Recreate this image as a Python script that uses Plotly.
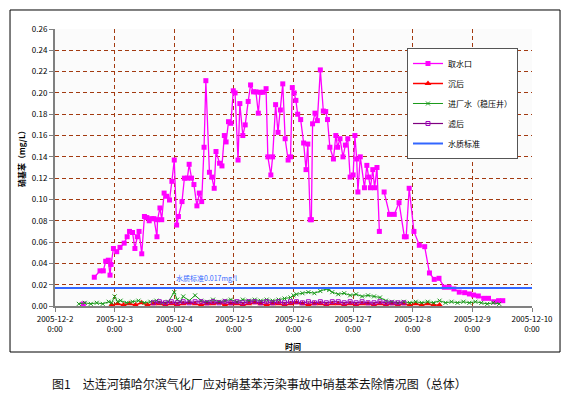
import pandas as pd
import plotly.graph_objects as go

START = pd.Timestamp("2005-12-02 00:00")

# 取水口 (intake) - elapsed days since 2005-12-2 0:00, values mg/L (None = gap)
intake_day = [0.475, 0.56, 0.659, 0.755, 0.81, 0.85, 0.894, 0.923, 0.94, 0.98, 1.035, 1.09, 1.16, 1.21,
              1.25, 1.30, 1.34, 1.38, 1.41, 1.455, 1.50, 1.54, 1.58, 1.62, 1.66, 1.71, 1.72, 1.76, 1.79,
              1.83, 1.87, 1.92, 1.96, 2.00, 2.04, 2.07, 2.13, 2.17, 2.22, 2.25, 2.29, 2.33, 2.38, 2.42,
              2.46, 2.50, 2.53, 2.59, 2.63, 2.67, 2.70, 2.76, 2.80, 2.84, 2.87, 2.91, 2.95, 2.99, 3.02,
              3.07, 3.10, 3.15, 3.19, 3.24, 3.28, 3.33, 3.37, 3.41, 3.44, 3.49, 3.54, 3.57, 3.62, 3.65,
              3.70, 3.74, 3.78, 3.82, 3.86, 3.91, 3.95, 3.98, 4.01, 4.04, 4.07, 4.12, 4.17, 4.21, 4.24,
              4.28, 4.30, 4.32, 4.36, 4.40, 4.45, 4.50, 4.54, 4.57, 4.61, 4.67, 4.71, 4.74, 4.78, 4.83,
              4.87, 4.91, 4.95, 5.00, 5.03, 5.06, 5.08, 5.12, 5.19, 5.23, 5.26, 5.29, 5.33, 5.36, 5.40,
              5.44, 5.48, 5.52, 5.61, 5.69, 5.77, 5.86, 5.89, 5.94, 6.02, 6.11, 6.20, 6.28, 6.36, 6.44,
              6.53, 6.61, 6.69, 6.78, 6.87, 6.95, 7.02, 7.10, 7.19, 7.27, 7.37, 7.44, 7.51]
intake_val = [0.002, None, 0.027, 0.033, 0.033, 0.042, 0.043, 0.029, 0.039, 0.054, 0.051, 0.055, 0.059, 0.065,
              0.070, 0.069, 0.054, 0.065, 0.070, 0.049, 0.084, 0.083, 0.080, 0.082, 0.082, 0.065, 0.081, 0.092, 0.081,
              0.106, 0.103, 0.0995, 0.117, 0.137, 0.076, 0.084, 0.098, 0.120, 0.120, 0.133, 0.120, 0.114, 0.094, 0.106,
              0.098, 0.149, 0.2115, 0.1255, 0.121, 0.1105, 0.145, 0.134, 0.1315, 0.160, 0.154, 0.173, 0.1715, 0.202, 0.200,
              0.137, 0.190, 0.160, 0.170, 0.192, 0.2075, 0.201, 0.201, 0.181, 0.2006, 0.2006, 0.204, 0.140, 0.123, 0.140,
              0.189, 0.163, 0.184, 0.2085, 0.157, 0.137, 0.140, 0.205, 0.200, 0.193, 0.180, 0.175, 0.153, 0.128, 0.152,
              0.081, 0.081, 0.171, 0.181, 0.174, 0.2216, 0.183, 0.1825, 0.175, 0.149, 0.138, 0.160, 0.149, 0.157, 0.140,
              0.151, 0.157, 0.121, 0.123, 0.160, 0.138, 0.107, 0.140, 0.111, 0.132, 0.121, 0.111, 0.128, 0.111, 0.130,
              0.070, None, 0.107, 0.086, 0.086, 0.097, 0.065, 0.065, 0.1105, 0.070, 0.057, 0.0557, 0.031, 0.025, 0.026,
              0.0176, 0.0176, 0.016, 0.013, 0.0125, 0.0113, 0.0103, 0.0094, 0.0072, 0.0072, 0.004, 0.005, 0.005]

# 沉后
settled_day = [0.95, 1.05, 1.15, 1.25, 1.35, 1.45, 1.55, 1.65, 1.75, 1.85, 1.95, 2.05, 2.15, 2.25, 2.35, 2.45,
               2.55, 2.65, 2.75, 2.85, 2.95, 3.05, 3.15, 3.25, 3.35, 3.45, 3.55, 3.65, 3.75, 3.85, 3.95, 4.05,
               4.15, 4.25, 4.35, 4.45, 4.55, 4.65, 4.75, 4.85, 4.95, 5.05, 5.15, 5.25, 5.35, 5.45, 5.55, 5.65,
               5.75, 5.85, 5.95, 6.05, 6.15, 6.25, 6.35, 6.45]
settled_val = [0.001, 0.002, 0.001, 0.002, 0.001, 0.003, 0.001, 0.002, 0.002, 0.001, 0.002, 0.001, 0.002, 0.003,
               0.002, 0.001, 0.002, 0.002, 0.003, 0.001, 0.002, 0.002, 0.001, 0.002, 0.003, 0.002, 0.001, 0.002,
               0.002, 0.001, 0.002, 0.003, 0.002, 0.001, 0.002, 0.002, 0.001, 0.002, 0.002, 0.001, 0.002, 0.001,
               0.002, 0.002, 0.001, 0.002, 0.001, 0.002, 0.001, 0.002, 0.001, 0.002, 0.001, 0.002, 0.001, 0.001]

# 进厂水（稳压井）
inlet_day = [0.40, 0.50, 0.60, 0.70, 0.80, 0.90, 0.95, 1.00, 1.05, 1.10, 1.20, 1.30, 1.40, 1.50, 1.60, 1.70,
             1.80, 1.90, 2.00, 2.05, 2.10, 2.15, 2.25, 2.35, 2.45, 2.55, 2.65, 2.75, 2.85, 2.95, 3.05, 3.15,
             3.25, 3.35, 3.45, 3.55, 3.65, 3.75, 3.85, 3.95, 4.00, 4.05, 4.15, 4.25, 4.35, 4.45, 4.55, 4.60,
             4.65, 4.75, 4.85, 4.95, 5.05, 5.15, 5.25, 5.35, 5.45, 5.55, 5.65, 5.75, 5.85, 5.95, 6.05, 6.15,
             6.25, 6.35, 6.45, 6.55, 6.65, 6.75, 6.85, 6.95, 7.05, 7.15, 7.25, 7.35, 7.45]
inlet_val = [0.002, 0.003, 0.002, 0.003, 0.002, 0.004, 0.003, 0.009, 0.004, 0.005, 0.003, 0.004, 0.005, 0.003,
             0.004, 0.005, 0.003, 0.004, 0.013, 0.006, 0.004, 0.009, 0.005, 0.010, 0.005, 0.004, 0.006, 0.004,
             0.005, 0.006, 0.004, 0.006, 0.005, 0.006, 0.005, 0.006, 0.005, 0.006, 0.007, 0.008, 0.010, 0.011,
             0.012, 0.013, 0.012, 0.014, 0.016, 0.015, 0.013, 0.011, 0.012, 0.010, 0.011, 0.009, 0.010, 0.009,
             0.008, 0.005, 0.004, 0.003, 0.004, 0.003, 0.004, 0.003, 0.004, 0.003, 0.005, 0.003, 0.004, 0.003,
             0.004, 0.003, 0.004, 0.003, 0.002, 0.003, 0.002]

# 滤后
filtered_day = [1.65, 1.75, 1.85, 1.95, 2.05, 2.15, 2.25, 2.35, 2.45, 2.55, 2.65, 2.75, 2.85, 2.95, 3.05,
                3.15, 3.25, 3.35, 3.45, 3.55, 3.65, 3.75, 3.85, 3.95, 4.05, 4.15, 4.25, 4.35, 4.45, 4.55,
                4.65, 4.75, 4.85, 4.95, 5.05, 5.15, 5.25, 5.35, 5.45, 5.55, 5.65, 5.75, 5.85]
filtered_val = [0.003, 0.004, 0.003, 0.004, 0.003, 0.004, 0.003, 0.004, 0.004, 0.003, 0.004, 0.003, 0.004,
                0.003, 0.004, 0.003, 0.004, 0.004, 0.003, 0.004, 0.003, 0.004, 0.003, 0.004, 0.004, 0.003,
                0.004, 0.003, 0.004, 0.003, 0.004, 0.004, 0.003, 0.004, 0.003, 0.004, 0.003, 0.003, 0.004,
                0.003, 0.003, 0.003, 0.003]

standard_value = 0.017
standard_label = "水质标准0.017mg/l"

tick_dates = ["2005-12-2", "2005-12-3", "2005-12-4", "2005-12-5", "2005-12-6",
              "2005-12-7", "2005-12-8", "2005-12-9", "2005-12-10"]
y_ticks = [0.00, 0.02, 0.04, 0.06, 0.08, 0.10, 0.12, 0.14, 0.16, 0.18, 0.20, 0.22, 0.24, 0.26]

title_text = "图1　达连河镇哈尔滨气化厂应对硝基苯污染事故中硝基苯去除情况图（总体）"
x_title = "时间"
y_title = "硝基苯（mg/L）"


def to_time(days):
    return [START + pd.Timedelta(days=d) for d in days]


FONT = "Noto Sans CJK SC"
GRID = "#a23a10"

fig = go.Figure()
fig.add_trace(go.Scatter(x=to_time(intake_day), y=intake_val, name="取水口", mode="lines+markers",
                         line=dict(color="#ff00ff", width=1.3), marker=dict(symbol="square", size=5, color="#ff00ff"),
                         legendgroup="a", connectgaps=False))
fig.add_trace(go.Scatter(x=to_time(settled_day), y=settled_val, name="沉后", mode="lines+markers",
                         line=dict(color="#ff0000", width=1.5), marker=dict(symbol="triangle-up", size=6, color="#ff0000"),
                         legendgroup="b"))
fig.add_trace(go.Scatter(x=to_time(inlet_day), y=inlet_val, name="进厂水（稳压井）", mode="lines+markers",
                         line=dict(color="#1a9a1a", width=1), marker=dict(symbol="x-thin-open", size=4, color="#1a9a1a",
                                                                         line=dict(width=1, color="#1a9a1a")),
                         legendgroup="c"))
fig.add_trace(go.Scatter(x=to_time(filtered_day), y=filtered_val, name="滤后", mode="lines+markers",
                         line=dict(color="#800080", width=1.2), marker=dict(symbol="square-open", size=4, color="#a000c0"),
                         legendgroup="d"))
fig.add_trace(go.Scatter(x=[START, START + pd.Timedelta(days=8)], y=[standard_value, standard_value],
                         name="水质标准", mode="lines", line=dict(color="#3366ff", width=2), legendgroup="e"))

fig.add_annotation(x=START + pd.Timedelta(days=2.0), y=0.026, text=standard_label, showarrow=False,
                   xanchor="left", yanchor="middle", font=dict(family=FONT, size=7, color="#3366ff"))

# paper spans the whole figure (zero margins); plot area set through axis domains
fig.add_annotation(x=0.449, y=0.0384, xref="paper", yref="paper", text=title_text, showarrow=False,
                   xanchor="center", yanchor="middle", font=dict(family=FONT, size=12, color="#111111"))
fig.add_annotation(x=0.508, y=0.1355, xref="paper", yref="paper", text="<b>" + x_title + "</b>", showarrow=False,
                   xanchor="center", yanchor="middle", font=dict(family=FONT, size=8, color="#000000"))
fig.add_annotation(x=0.025, y=0.619, xref="paper", yref="paper", text="<b>" + y_title + "</b>", showarrow=False,
                   textangle=-90, xanchor="center", yanchor="middle", font=dict(family=FONT, size=8, color="#000000"))

# outer frame of the chart
fig.add_shape(type="rect", xref="paper", yref="paper", x0=0.0036, x1=0.984, y0=0.1202, y1=0.9949,
              line=dict(color="#000000", width=1), fillcolor="rgba(0,0,0,0)", layer="above")

# page body adds an 8px offset, so the figure is drawn 8px smaller
fig.update_layout(
    width=561, height=391,
    margin=dict(l=0, r=0, t=0, b=0, pad=0),
    paper_bgcolor="#ffffff",
    plot_bgcolor="#fbfbfb",
    font=dict(family=FONT, size=8, color="#000000"),
    showlegend=True,
    legend=dict(x=0.7112, y=0.8977, xanchor="left", yanchor="top", bgcolor="#ffffff",
                bordercolor="#555555", borderwidth=1, font=dict(family=FONT, size=8),
                tracegroupgap=1, itemwidth=30),
    xaxis=dict(type="date", range=[START, START + pd.Timedelta(days=8)], automargin=False,
               domain=[0.08378, 0.93405],
               tickvals=[pd.Timestamp(d) for d in tick_dates],
               ticktext=[d + "<br>0:00" for d in tick_dates],
               showgrid=True, gridcolor=GRID, griddash="4px,3px", gridwidth=1,
               showline=True, linecolor="#808080", linewidth=2,
               ticks="outside", ticklen=4, tickcolor="#808080",
               tickfont=dict(family=FONT, size=8), zeroline=False),
    yaxis=dict(range=[0, 0.26], tickvals=y_ticks, ticktext=["%.2f" % v for v in y_ticks], automargin=False,
               domain=[0.23785, 0.94629],
               showgrid=True, gridcolor=GRID, griddash="4px,3px", gridwidth=1,
               showline=True, linecolor="#808080", linewidth=2,
               ticks="outside", ticklen=4, tickcolor="#808080",
               tickfont=dict(family=FONT, size=8), zeroline=False),
)

fig.write_html("out.html")
